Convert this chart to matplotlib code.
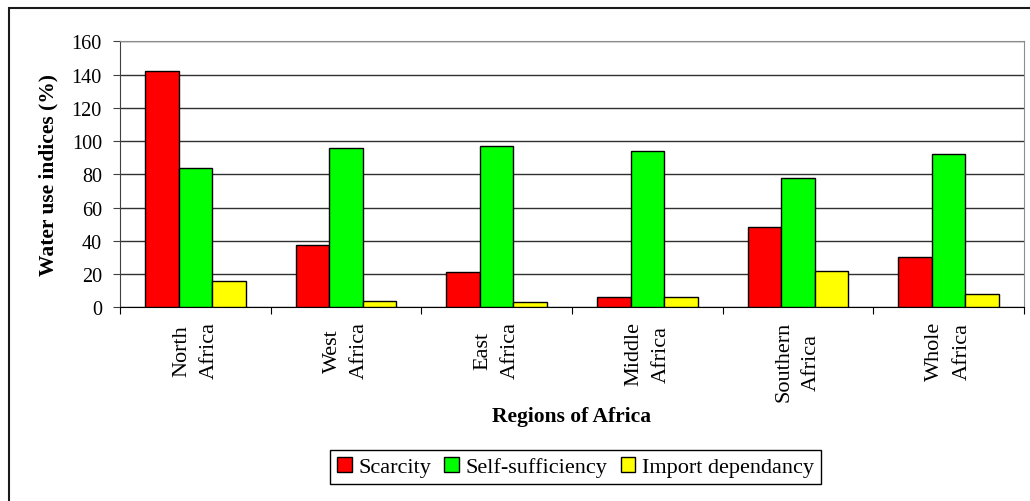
import matplotlib
matplotlib.use("Agg")
import matplotlib.pyplot as plt
import numpy as np
from matplotlib.patches import Rectangle

plt.rcParams['font.family'] = ['Liberation Serif', 'DejaVu Serif']

regions = ["North\nAfrica", "West\nAfrica", "East\nAfrica",
           "Middle\nAfrica", "Southern\nAfrica", "Whole\nAfrica"]
scarcity = [142, 37.5, 21, 6, 48.5, 30]
self_sufficiency = [84, 96, 97, 94, 78, 92]
import_dependancy = [16, 4, 3, 6, 22, 8]

series = [("Scarcity", scarcity, "#ff0000"),
          ("Self-sufficiency", self_sufficiency, "#00ff00"),
          ("Import dependancy", import_dependancy, "#ffff00")]

fig = plt.figure(figsize=(10.30, 5.02), dpi=100)
ax = fig.add_axes([120 / 1030, 1 - 308.3 / 502, 904 / 1030, 266 / 502])

x = np.arange(len(regions))
w = 0.222
for i, (name, vals, col) in enumerate(series):
    ax.bar(x + (i - 1) * w, vals, w, color=col, edgecolor='black',
           linewidth=1.0, label=name, zorder=3)

ax.set_xlim(-0.5, len(regions) - 0.5)
ax.set_ylim(0, 160)
ax.set_yticks(np.arange(0, 161, 20))
ax.yaxis.grid(True, color='#303030', linewidth=1.0, zorder=0)
ax.set_axisbelow(True)

# category boundaries get the tick marks, centers get the labels
ax.set_xticks(np.arange(-0.5, len(regions), 1.0))
ax.set_xticklabels([])
ax.set_xticks(x, minor=True)
ax.set_xticklabels(regions, minor=True, rotation=90, fontsize=16,
                   va='top', ha='center', multialignment='center',
                   linespacing=1.6)
ax.tick_params(axis='x', which='minor', length=0, pad=10)
ax.tick_params(axis='x', which='major', length=5, direction='out', color='black')
ax.tick_params(axis='y', length=5, direction='out', color='#404040',
               labelsize=14.5, pad=8)

for side in ['top', 'right']:
    ax.spines[side].set_color('#8c8c8c')
ax.spines['left'].set_color('#404040')
ax.spines['bottom'].set_color('black')

ax.set_ylabel("Water use indices (%)", fontsize=15.5, fontweight='bold')
ax.yaxis.set_label_coords(-0.068, 0.5)
ax.set_xlabel("Regions of Africa", fontsize=15.5, fontweight='bold')
ax.xaxis.set_label_coords(0.5, -0.37)

fig.legend(loc='center', bbox_to_anchor=(575.5 / 1030, 1 - 468 / 502),
           ncol=3, fontsize=16, frameon=True, fancybox=False, shadow=False,
           edgecolor='black', framealpha=1, handlelength=0.65,
           handleheight=0.65, handletextpad=0.3, columnspacing=0.6,
           borderpad=0.3, borderaxespad=0)

# outer chart border
fig.add_artist(Rectangle((8.5 / 1030, -0.1), 1.2, 1.1 - 8.5 / 502,
                         transform=fig.transFigure, fill=False,
                         linewidth=1.5, edgecolor='#1a1a1a'))

fig.savefig("out.png", dpi=100)
